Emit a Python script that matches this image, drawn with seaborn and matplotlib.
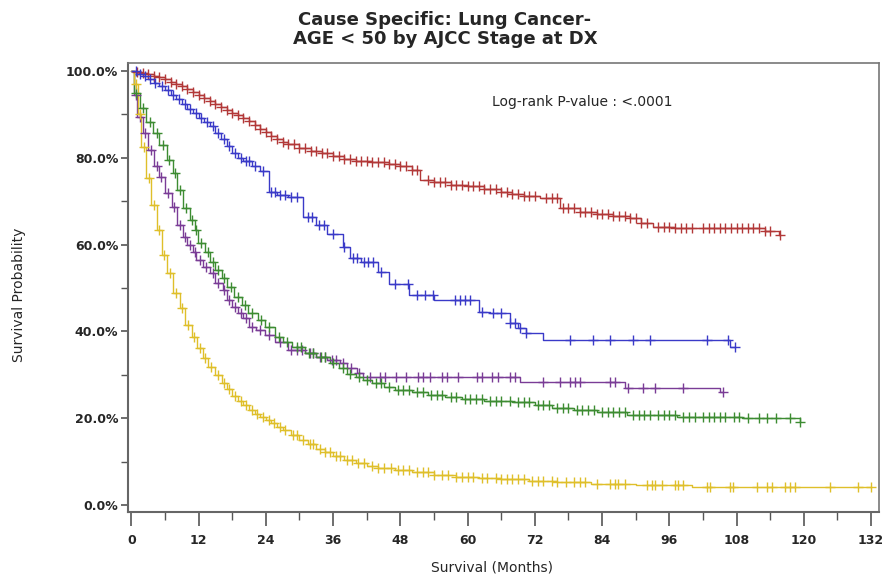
import numpy as np
import pandas as pd
import matplotlib
matplotlib.use('Agg')
import matplotlib.pyplot as plt
import seaborn as sns
from matplotlib.ticker import MultipleLocator, FuncFormatter

# step points (months, survival %)
red_t = [0, 1, 2, 3, 4, 5, 6, 7, 8, 9, 10, 11, 12, 13, 14, 15, 16, 17, 18, 19, 20, 21, 22, 23, 24, 25, 26, 27, 28, 30, 32, 34, 36, 38, 40, 43, 46, 48, 50, 51.5, 54, 57, 60, 63, 66, 68, 70, 73, 76.5, 80, 83, 86, 89, 91, 93, 97, 113, 115.5]
red_s = [100, 99.8, 99.5, 99.2, 98.9, 98.5, 98, 97.5, 97, 96.4, 95.8, 95.1, 94.5, 93.8, 93, 92.3, 91.6, 90.9, 90.3, 89.8, 89.2, 88.4, 87.6, 86.7, 85.8, 85, 84.3, 83.7, 83.1, 82.3, 81.6, 81, 80.4, 79.8, 79.3, 79, 78.6, 78.1, 77.2, 74.8, 74.3, 73.8, 73.4, 72.8, 72.2, 71.7, 71.2, 70.6, 68.3, 67.5, 67, 66.5, 66, 65, 64, 63.8, 63.2, 62.3]

blue_t = [0, 1, 2, 3, 4, 5, 6, 7, 8, 9, 10, 11, 12, 13, 14, 15, 16, 17, 18, 19, 20, 21.5, 23, 24.5, 26, 28, 30.6, 33, 35, 37.7, 39, 41, 44, 46, 49.5, 54, 62, 64, 67.5, 69, 70.5, 73.5, 106.9]
blue_s = [100, 99.3, 98.7, 98, 97.3, 96.5, 95.5, 94.5, 93.4, 92.3, 91.2, 90.2, 89.2, 88.2, 87.2, 85.7, 84.2, 82.6, 81, 80, 79.2, 78, 77, 72.2, 71.5, 71, 66.4, 64.5, 62.5, 59.4, 57, 56, 53.7, 51, 48.4, 47.2, 44.5, 44.2, 42, 40.8, 39.6, 38, 36.4]

purple_t = [0, 0.5, 1, 2, 3, 4, 5, 6, 7.2, 8.1, 9.2, 10, 11, 11.6, 12.8, 14, 14.9, 16.3, 17, 18, 19, 20, 21, 22.3, 23.8, 25.6, 28, 31, 33, 35, 37.2, 38.5, 40.2, 41.3, 69.3, 88, 105]
purple_s = [100, 94.5, 89.4, 85.7, 81.8, 78, 75.6, 71.9, 68.7, 64.5, 61.8, 59.9, 58.3, 56.4, 54.8, 53.5, 51.2, 49.5, 47.2, 45.6, 44.2, 43.1, 41, 40.3, 39.2, 37.6, 35.7, 35, 34, 33.3, 32.7, 31.5, 30.4, 29.5, 28.3, 27, 26]

green_t = [0, 0.5, 1.5, 2.7, 3.9, 5, 6.3, 7.4, 8.1, 9.2, 10.4, 11.3, 11.9, 13.1, 14, 14.9, 16.1, 17, 18.4, 19.7, 20.8, 22.6, 23.8, 25.6, 27, 28.6, 31, 33, 35.4, 37, 38.5, 40, 41.3, 43, 45, 47, 50, 53, 56, 59, 63, 68, 72, 75, 79, 83, 88.4, 97.3, 109, 119.3]
green_s = [100, 95, 91.4, 88.2, 85.7, 83, 79.5, 76.5, 72.6, 68.4, 65.7, 63.4, 60.4, 58.3, 56, 54.1, 52.3, 50.2, 47.9, 46, 44.2, 42.6, 41, 38.7, 37.6, 36.4, 35, 34, 32.7, 31.5, 30.2, 29.4, 28.8, 28, 27.3, 26.6, 26, 25.4, 24.9, 24.5, 24, 23.7, 23, 22.3, 21.8, 21.4, 20.7, 20.3, 20, 19.2]

yellow_t = [0, 0.5, 1.2, 1.8, 2.7, 3.5, 4.5, 5.4, 6.3, 7.4, 8.6, 9.5, 10.8, 11.7, 12.8, 13.7, 14.9, 16.1, 17, 18, 19, 20, 21, 22, 23, 24, 25, 26, 27, 28.5, 30, 31.5, 33, 34.5, 36, 38, 40, 42, 44, 47, 50, 54, 58, 62, 66, 71, 76, 82, 90, 100]
yellow_s = [100, 97, 90, 82.5, 75.3, 69, 63.4, 57.6, 53.5, 48.8, 45.4, 41.5, 38.7, 36.2, 33.9, 31.8, 30, 28.1, 26.8, 25, 24, 23, 21.9, 21, 20.3, 19.6, 18.8, 18, 17.3, 16.2, 15, 14, 13, 12.2, 11.3, 10.4, 9.6, 9, 8.5, 8, 7.5, 7, 6.5, 6.2, 5.9, 5.5, 5.2, 4.9, 4.6, 4.2]

# censored times
red_c = [1, 2, 3, 4, 5, 6, 7, 8, 9, 10, 11, 12, 13, 14, 15, 16, 17, 18, 19, 20, 21, 22, 23, 24, 25, 26, 27, 28, 29, 30, 31, 32, 33, 34, 35, 36, 37, 38, 39, 40, 41, 42, 43, 44, 45, 46, 47, 48, 49, 50, 51, 53, 54, 55, 56, 57, 58, 59, 60, 61, 62, 63, 64, 65, 66, 67, 68, 69, 70, 71, 72, 74, 75, 76, 77, 78, 79, 80, 81, 82, 83, 84, 85, 86, 87, 88, 89, 90, 91, 92, 94, 95, 96, 97, 98, 99, 100, 102, 103, 104, 105, 106, 107, 108, 109, 110, 111, 112, 113, 114, 115.8]
blue_c = [0.8, 1.6, 2.5, 3.4, 4.3, 5.5, 6.5, 7.5, 8.5, 9.5, 10.5, 11.5, 12.5, 13.5, 14.5, 15.5, 16.5, 17.5, 18.5, 19.5, 20.5, 21, 22, 23.5, 25, 25.7, 26.5, 27.5, 28.5, 29.5, 31.5, 32.3, 33.5, 34.3, 36, 38, 39.5, 40.3, 41.5, 42.3, 43.2, 44.6, 47, 49.4, 51, 52.4, 53.9, 57.7, 58.6, 59.5, 60.4, 62.5, 64.5, 66, 67.5, 68.4, 69.3, 70.5, 78.3, 82.4, 85.4, 89.6, 92.5, 102.7, 106.5, 107.7]
purple_c = [0.8, 1.5, 2.5, 3.5, 4.5, 5.3, 6.5, 7.6, 8.6, 9.6, 10.5, 11.3, 12.2, 13.4, 14.5, 15.5, 16.6, 17.5, 18.5, 19.5, 20.5, 21.6, 23, 24.5, 26.5, 28.5, 29.5, 30.5, 31.8, 32.5, 33.7, 34.5, 35.8, 36.5, 37.8, 39.2, 40.7, 42.5, 44.4, 45.2, 47.3, 49, 51.1, 52, 53.3, 55.4, 56.3, 58.3, 61.7, 62.6, 64.3, 65.4, 67.5, 68.4, 73.5, 76.5, 78.3, 79.2, 80.1, 85.4, 86.3, 88.6, 91.3, 93.4, 98.4, 105.6]
green_c = [0.8, 2, 3.3, 4.5, 5.7, 6.8, 7.8, 8.7, 9.8, 10.8, 11.6, 12.5, 13.6, 14.5, 15.5, 16.6, 17.7, 19, 20.2, 21.5, 23.2, 24.6, 26.3, 27.8, 29.5, 30.3, 31.7, 32.5, 33.8, 34.6, 36, 37.8, 39, 40.6, 42, 43.7, 44.5, 46, 47.5, 48.5, 49.5, 51, 52, 53.5, 54.5, 55.5, 57, 58, 59.5, 60.5, 61.5, 62.5, 64, 65, 66, 67.5, 69, 70, 71, 72.5, 73.5, 74.5, 76, 77, 78, 79.5, 80.5, 81.5, 82.5, 84, 85, 86, 87, 88, 89.5, 90.5, 91.5, 92.5, 94, 95, 96, 97, 98.5, 99.5, 100.5, 102, 103, 104, 105, 106, 107.5, 108.5, 110, 112, 113.5, 115, 117.5, 119.3]
yellow_c = [0.8, 1.5, 2.3, 3.1, 4, 5, 5.9, 6.9, 8, 9, 10.1, 11.2, 12.2, 13.2, 14.3, 15.5, 16.5, 17.5, 18.5, 19.5, 20.5, 21.5, 22.5, 23.5, 24.5, 25.5, 26.5, 27.5, 28.8, 29.5, 30.7, 31.8, 32.5, 33.7, 34.5, 35.5, 36.5, 37.3, 38.5, 39.3, 40.5, 41.5, 43, 44, 45, 46.3, 47.5, 48.5, 49.5, 51, 52, 53, 54, 55.5, 56.5, 58, 59, 60, 61, 62.5, 63.5, 65, 66, 67, 68, 69, 70, 71.5, 72.5, 73.5, 75, 76, 77.5, 79, 80, 81, 83, 85.4, 86.3, 86.9, 88.1, 92, 92.9, 93.4, 94.7, 97, 97.6, 98.4, 102.7, 103.3, 106.8, 107.4, 111.6, 113.4, 114.3, 116.6, 117.5, 118.4, 124.7, 129.7, 131.9]

groups = [
    ('red', red_t, red_s, red_c, '#b23838'),
    ('blue', blue_t, blue_s, blue_c, '#3a3ac8'),
    ('purple', purple_t, purple_s, purple_c, '#7a3c96'),
    ('green', green_t, green_s, green_c, '#3d8c32'),
    ('yellow', yellow_t, yellow_s, yellow_c, '#dfbf2a'),
]

sns.set_style('white')
plt.rcParams['font.family'] = ['DejaVu Sans']

fig = plt.figure(figsize=(8.9, 5.79), dpi=100)
ax = fig.add_axes([0.1438, 0.1157, 0.8438, 0.7755])

for name, t, s, c, col in groups:
    # extend the last step out to the last censored time
    tt = list(t) + [max(c)]
    ss = list(s) + [s[-1]]
    sns.lineplot(x=tt, y=ss, drawstyle='steps-post', color=col, linewidth=1.0, ax=ax, estimator=None, sort=False)
    idx = np.searchsorted(np.array(t), np.array(c), side='right') - 1
    cy = np.array(s)[idx]
    sns.scatterplot(x=c, y=cy, marker='+', s=45, color=col, linewidth=1.0, ax=ax, zorder=3)

ax.set_xlim(-0.6, 133.4)
ax.set_ylim(-1.6, 101.8)
ax.xaxis.set_major_locator(MultipleLocator(12))
ax.xaxis.set_minor_locator(MultipleLocator(6))
ax.yaxis.set_major_locator(MultipleLocator(20))
ax.yaxis.set_minor_locator(MultipleLocator(10))
ax.yaxis.set_major_formatter(FuncFormatter(lambda v, p: f'{v:.1f}%'))

ax.tick_params(axis='x', which='major', length=10, width=1.2, color='#555555', direction='out', bottom=True, labelsize=9, pad=6)
ax.tick_params(axis='x', which='minor', length=6, width=1.0, color='#555555', direction='out', bottom=True)
ax.tick_params(axis='y', which='major', length=5, width=1.2, color='#555555', direction='out', left=True, labelsize=9, pad=2)
ax.tick_params(axis='y', which='minor', length=5, width=1.0, color='#555555', direction='out', left=True)
for lab in ax.get_xticklabels() + ax.get_yticklabels():
    lab.set_fontweight('bold')

for side in ['left', 'bottom']:
    ax.spines[side].set_color('#666666')
    ax.spines[side].set_linewidth(1.5)
for side in ['top', 'right']:
    ax.spines[side].set_color('#777777')
    ax.spines[side].set_linewidth(1.2)

ax.set_xlabel('')
ax.set_ylabel('')
fig.text(0.553, 0.019, 'Survival (Months)', ha='center', va='center', fontsize=10)
fig.text(0.021, 0.49, 'Survival Probability', ha='center', va='center', rotation=90, fontsize=10)

fig.text(0.5, 0.949, 'Cause Specific: Lung Cancer-\nAGE < 50 by AJCC Stage at DX', ha='center', va='center',
         fontsize=13, fontweight='bold', linespacing=1.1)

ax.text(64.3, 92.9, 'Log-rank P-value : <.0001', fontsize=10, ha='left', va='center')

fig.savefig('out.png', dpi=100)
